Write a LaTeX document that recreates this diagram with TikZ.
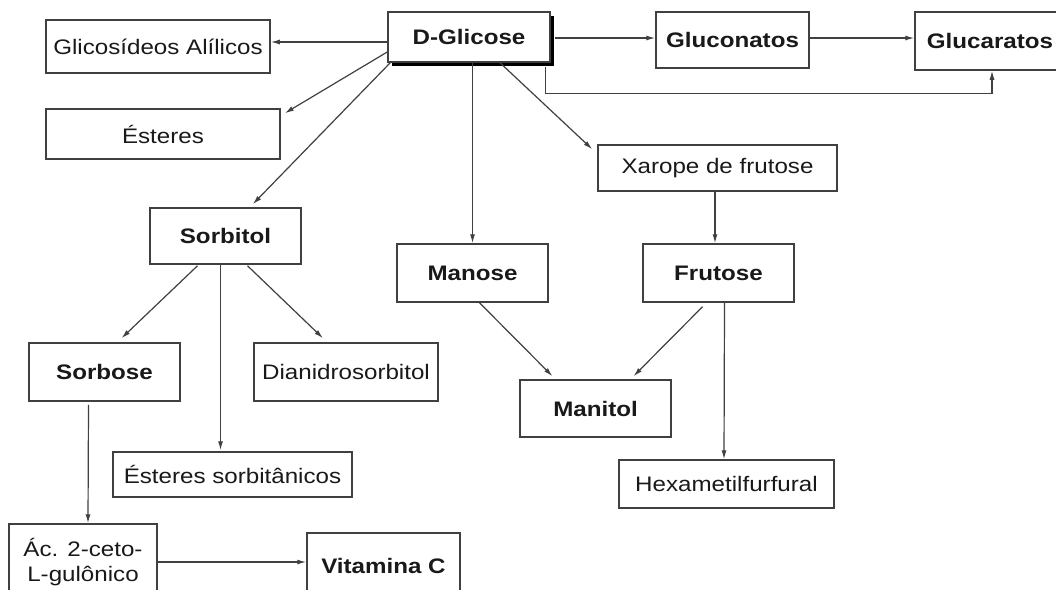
\documentclass[tikz,border=0pt]{standalone}
\usepackage{fontspec}
\setmainfont{Liberation Sans}[FakeStretch=1.15]
\usetikzlibrary{arrows.meta,calc,shadows}
\begin{document}
\begin{tikzpicture}[x=1pt,y=-1pt,
  box/.style={draw=black!75,line width=1.5pt,fill=white,inner sep=0pt,
    font=\fontsize{21}{25}\selectfont,text=black!90,align=center},
  bbox/.style={box,font=\fontsize{21}{25}\selectfont\bfseries},
  arr/.style={draw=black!75,line width=1.2pt,-{Latex[length=9pt,width=5pt]}}]
\useasboundingbox (0,0) rectangle (1056,589);
\fill[white] (0,0) rectangle (1056,589);
\clip (0,0) rectangle (1056,589);

% nodes
\node[bbox,minimum width=162pt,minimum height=50pt,
  drop shadow={shadow xshift=4pt,shadow yshift=-4pt,opacity=1,fill=black}] (glic) at (469,37) {D-Glicose};
\node[box,minimum width=224pt,minimum height=53pt] (glicos) at (158,46.5) {Glicosídeos Alílicos};
\node[box,minimum width=234pt,minimum height=50pt] (esteres) at (163,134) {Ésteres};
\node[bbox,minimum width=153pt,minimum height=56pt] (glucon) at (732.5,40) {Gluconatos};
\node[bbox,minimum width=150pt,minimum height=58pt] (glucar) at (990,41) {Glucaratos};
\node[box,minimum width=239pt,minimum height=46pt] (xarope) at (717.5,168) {Xarope de frutose};
\node[bbox,minimum width=151pt,minimum height=56pt] (sorbitol) at (225.5,236) {Sorbitol};
\node[bbox,minimum width=151pt,minimum height=58pt] (manose) at (472.5,273) {Manose};
\node[bbox,minimum width=151pt,minimum height=58pt] (frutose) at (718.5,273) {Frutose};
\node[bbox,minimum width=151pt,minimum height=58pt] (sorbose) at (104.5,372) {Sorbose};
\node[box,minimum width=184pt,minimum height=58pt] (dianidro) at (346,372) {Dianidrosorbitol};
\node[bbox,minimum width=151pt,minimum height=57pt] (manitol) at (595.5,408.5) {Manitol};
\node[box,minimum width=239pt,minimum height=45pt] (estsorb) at (232.5,474.5) {Ésteres sorbitânicos};
\node[box,minimum width=215pt,minimum height=48pt] (hexa) at (726.5,484) {Hexametilfurfural};
\node[box,minimum width=148pt,minimum height=76pt] (acido) at (83,562) {Ác. 2-ceto-\\L-gulônico};
\node[bbox,minimum width=153pt,minimum height=66pt] (vitc) at (383.5,566) {Vitamina C};

% connectors
\draw[arr] (glic.west |- 0,42) -- (glicos.east |- 0,42);
\draw[arr] ($(glic.west)+(0,15)$) -- ($(esteres.north east)+(4,5)$);
\draw[arr] ($(glic.south west)+(3,0)$) -- ($(sorbitol.north east)+(-49,-3)$);
\draw[arr] (glic.south -| manose.north) -- (manose.north);
\draw[arr] ($(glic.south)+(31,0)$) -- ($(xarope.north west)+(-5,5)$);
\draw[arr] ($(glic.east)+(4,1)$) -- (glucon.west |- 0,38);
\draw[arr] (glucon.east |- 0,38) -- (glucar.west |- 0,38);
\draw[arr] ($(glic.south east)+(-5,4)$) -- ++(0,27) -| ($(glucar.south)+(2,0)$);
\draw[arr] (xarope.south -| 715,0) -- (frutose.north -| 715,0);
\draw[arr] ($(sorbitol.south)+(-28,1)$) -- ($(sorbose.north)+(17,-4)$);
\draw[arr] ($(sorbitol.south)+(-5,0)$) -- ($(estsorb.north)+(-12,-1)$);
\draw[arr] ($(sorbitol.south)+(22,1)$) -- ($(dianidro.north)+(-23,-4)$);
\draw[arr] ($(sorbose.south)+(-16,3)$) -- ($(acido.north)+(5,0)$);
\draw[arr] (acido.east |- 0,562) -- (vitc.west |- 0,562);
\draw[arr] ($(manose.south)+(7,0)$) -- ($(manitol.north)+(-43,-3)$);
\draw[arr] ($(frutose.south)+(-16,4)$) -- ($(manitol.north)+(38,-3)$);
\draw[arr] ($(frutose.south)+(6,0)$) -- (hexa.north -| 724,0);
\end{tikzpicture}
\end{document}
